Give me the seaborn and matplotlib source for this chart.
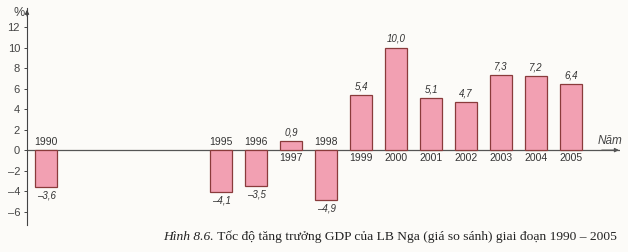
import matplotlib
matplotlib.use("Agg")
import matplotlib.pyplot as plt
import seaborn as sns
import pandas as pd

years = [1990, 1995, 1996, 1997, 1998, 1999, 2000, 2001, 2002, 2003, 2004, 2005]
growth = [-3.6, -4.1, -3.5, 0.9, -4.9, 5.4, 10.0, 5.1, 4.7, 7.3, 7.2, 6.4]
yticks = [-6, -4, -2, 0, 2, 4, 6, 8, 10, 12]
caption_prefix = "Hình 8.6."
caption_text = " Tốc độ tăng trưởng GDP của LB Nga (giá so sánh) giai đoạn 1990 – 2005"

df = pd.DataFrame({"year": years, "growth": growth})

sns.set_theme(style="white")
plt.rcParams["font.family"] = ["Liberation Sans", "DejaVu Sans"]

bg = "#fcfbf8"
fig = plt.figure(figsize=(6.28, 2.52), dpi=100, facecolor=bg)
W, H = 628, 252
ax = fig.add_axes([27 / W, (H - 225) / H, (620 - 27) / W, (225 - 8) / H])
ax.set_facecolor(bg)

sns.barplot(data=df, x="year", y="growth", native_scale=True, width=0.62,
            color="#f2a0b2", edgecolor="#8a3b3b", linewidth=0.9,
            saturation=1, ax=ax)

ax.set_xlim(1989.45, 2006.4)
ax.set_ylim(-7.3, 13.85)

for s in ["top", "right", "bottom"]:
    ax.spines[s].set_visible(False)
ax.spines["left"].set_color("#444444")
ax.spines["left"].set_linewidth(0.8)
ax.axhline(0, color="#555555", lw=0.9, zorder=0.5)

ax.annotate("", xy=(1989.45, 13.95), xytext=(1989.45, 12.8),
            arrowprops=dict(arrowstyle="-|>", color="#444444", lw=0.8,
                            mutation_scale=6), annotation_clip=False)
ax.annotate("", xy=(2006.45, 0), xytext=(2005.8, 0),
            arrowprops=dict(arrowstyle="-|>", color="#555555", lw=0.8,
                            mutation_scale=6), annotation_clip=False)

ax.set_xticks([])
ax.set_yticks(yticks)
ax.set_yticklabels([str(t).replace("-", "–") for t in yticks], fontsize=8, color="#444444")
ax.tick_params(axis="y", which="major", direction="out", length=2, width=0.7,
               color="#444444", pad=3, left=True)
ax.set_xlabel("")
ax.set_ylabel("")

ax.text(-0.003, 1.005, "%", transform=ax.transAxes, ha="right", va="top",
        fontsize=9, color="#444444")
ax.text(2005.75, 0.35, "Năm", ha="left", va="bottom", fontsize=8.5,
        style="italic", color="#444444")

for yr, v in zip(years, growth):
    lab = f"{v:.1f}".replace(".", ",").replace("-", "–")
    if v >= 0:
        ax.text(yr, v + 0.35, lab, ha="center", va="bottom", fontsize=7,
                style="italic", color="#333333")
        ax.text(yr, -0.3, str(yr), ha="center", va="top", fontsize=7.5, color="#333333")
    else:
        ax.text(yr, v - 0.35, lab, ha="center", va="top", fontsize=7,
                style="italic", color="#333333")
        ax.text(yr, 0.3, str(yr), ha="center", va="bottom", fontsize=7.5, color="#333333")

cap_font = ["Liberation Serif", "DejaVu Serif"]
t0 = fig.text(163 / W, 1 - 237 / H, caption_prefix, ha="left", va="center",
              fontsize=9.7, style="italic", family=cap_font, color="#222222")
fig.canvas.draw()
r = t0.get_window_extent()
fig.text(r.x1 / W, 1 - 237 / H, caption_text, ha="left", va="center",
         fontsize=9.7, family=cap_font, color="#222222")

fig.savefig("out.png", dpi=100, facecolor=bg)
